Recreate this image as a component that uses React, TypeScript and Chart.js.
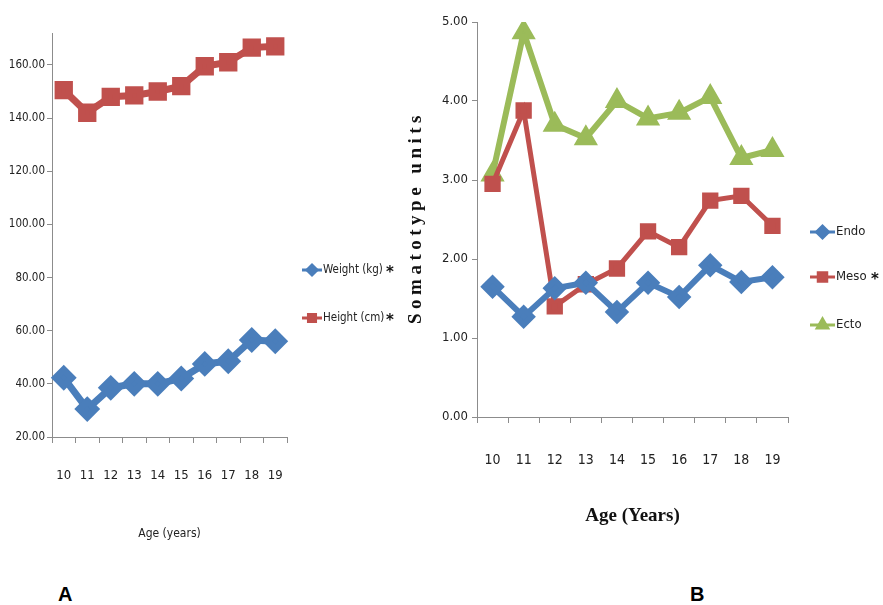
import React, { useEffect, useRef } from "react";
import { Chart, registerables } from "chart.js";
import { drawPoint } from "chart.js/helpers";

Chart.register(...registerables);

// ---------- data ----------
const ages = ["10", "11", "12", "13", "14", "15", "16", "17", "18", "19"];
const weightKg = [42.3, 30.5, 38.5, 40, 40, 42, 47.5, 48.5, 56.5, 56];
const heightCm = [150.5, 142, 148, 148.5, 150, 152, 159.5, 161, 166.5, 167];
const endo = [1.65, 1.27, 1.63, 1.7, 1.33, 1.7, 1.52, 1.92, 1.71, 1.77];
const meso = [2.95, 3.88, 1.4, 1.68, 1.88, 2.35, 2.15, 2.74, 2.8, 2.42];
const ecto = [3.07, 4.87, 3.7, 3.53, 4.0, 3.78, 3.85, 4.05, 3.28, 3.38];
const growthTicks = [20, 40, 60, 80, 100, 120, 140, 160];
const somaTicks = [0, 1, 2, 3, 4, 5];
const growthLabels = ["Weight (kg)", "Height (cm)"];
const growthSig = [true, true];
const somaLabels = ["Endo", "Meso", "Ecto"];
const somaSig = [false, true, false];
const somaYTitle = "Somatotype units";

const BLUE = "#4A7EBB";
const RED = "#C0504D";
const GREEN = "#9BBB59";
const NARROW = "'DejaVu Sans Condensed', 'Liberation Sans Narrow', 'Liberation Sans', sans-serif";
const SERIF = "'Liberation Serif', 'DejaVu Serif', serif";

// custom legend drawn on the canvas at fixed spots
const legendPlugin = {
  id: "fixedLegend",
  afterDraw(chart: any, _args: any, opts: any) {
    if (!opts || !opts.rows) return;
    const ctx = chart.ctx;
    ctx.save();
    chart.data.datasets.forEach((ds: any, i: number) => {
      const y = opts.rows[i];
      ctx.strokeStyle = ds.borderColor;
      ctx.lineWidth = 3;
      ctx.beginPath();
      ctx.moveTo(opts.x0, y);
      ctx.lineTo(opts.x1, y);
      ctx.stroke();
      ctx.fillStyle = ds.backgroundColor;
      ctx.strokeStyle = ds.borderColor;
      drawPoint(ctx, { pointStyle: ds.pointStyle, radius: opts.markerR, borderWidth: 1, rotation: 0 }, (opts.x0 + opts.x1) / 2, y);
      ctx.fillStyle = "#222";
      ctx.font = opts.font;
      ctx.textBaseline = "middle";
      ctx.textAlign = "left";
      ctx.fillText(ds.label, opts.x1 + 1, y);
      if (opts.sig[i]) {
        ctx.font = "bold 15px 'DejaVu Sans', sans-serif";
        ctx.fillStyle = "#111";
        ctx.fillText("*", opts.starX, y + 3);
      }
    });
    ctx.restore();
  },
};

// letter-spaced vertical axis title
const spacedTitlePlugin = {
  id: "spacedTitle",
  afterDraw(chart: any, _args: any, opts: any) {
    if (!opts || !opts.text) return;
    const ctx = chart.ctx;
    const area = chart.chartArea;
    ctx.save();
    ctx.translate(opts.x, (area.top + area.bottom) / 2 + opts.dy);
    ctx.rotate(-Math.PI / 2);
    ctx.font = opts.font;
    (ctx as any).letterSpacing = opts.spacing;
    ctx.fillStyle = "#111";
    ctx.textAlign = "center";
    ctx.textBaseline = "middle";
    ctx.fillText(opts.text, 0, 0);
    ctx.restore();
  },
};

function useChart(ref: React.RefObject<HTMLCanvasElement | null>, make: () => any) {
  useEffect(() => {
    if (!ref.current) return;
    const chart = new Chart(ref.current, make());
    return () => chart.destroy();
  }, []);
}

function GrowthChart() {
  const ref = useRef<HTMLCanvasElement | null>(null);
  useChart(ref, () => ({
    type: "line",
    data: {
      labels: ages,
      datasets: [
        {
          label: growthLabels[0],
          data: weightKg,
          borderColor: BLUE,
          backgroundColor: BLUE,
          borderWidth: 7,
          pointStyle: "rectRot",
          pointRadius: 8,
          tension: 0,
        },
        {
          label: growthLabels[1],
          data: heightCm,
          borderColor: RED,
          backgroundColor: RED,
          borderWidth: 7,
          pointStyle: "rect",
          pointRadius: 8,
          tension: 0,
        },
      ],
    },
    plugins: [legendPlugin],
    options: {
      animation: false,
      responsive: false,
      devicePixelRatio: 1,
      layout: { padding: { top: 33, right: 123, left: 0, bottom: 0 } },
      plugins: {
        legend: { display: false },
        tooltip: { enabled: false },
        fixedLegend: {
          rows: [270, 318],
          x0: 302,
          x1: 322,
          markerR: 5,
          starX: 386,
          sig: growthSig,
          font: "11.5px " + NARROW,
        },
      },
      scales: {
        x: {
          offset: true,
          grid: { offset: true, drawOnChartArea: false, drawTicks: true, tickLength: 6, color: "#8c8c8c" },
          border: { display: true, color: "#8c8c8c" },
          ticks: { color: "#222", padding: 25, font: { family: NARROW, size: 13 }, maxRotation: 0 },
          title: { display: true, text: "Age (years)", color: "#222", font: { family: NARROW, size: 12 }, padding: { bottom: 19 } },
          afterFit: (s: any) => { s.height = 123; },
        },
        y: {
          min: 20,
          max: 172,
          afterBuildTicks: (s: any) => { s.ticks = growthTicks.map((v) => ({ value: v })); },
          grid: { drawOnChartArea: false, drawTicks: true, tickLength: 5, color: "#8c8c8c" },
          border: { display: true, color: "#8c8c8c" },
          ticks: { color: "#222", padding: 2, font: { family: NARROW, size: 11.5 }, callback: (v: any) => Number(v).toFixed(2) },
          afterFit: (s: any) => { s.width = 52; },
        },
      },
    },
  }));
  return <canvas ref={ref} width={410} height={560} style={{ position: "absolute", left: 0, top: 0, width: 410, height: 560 }} />;
}

function SomaChart() {
  const ref = useRef<HTMLCanvasElement | null>(null);
  useChart(ref, () => ({
    type: "line",
    data: {
      labels: ages,
      datasets: [
        { label: somaLabels[0], data: endo, borderColor: BLUE, backgroundColor: BLUE, borderWidth: 6, pointStyle: "rectRot", pointRadius: 8, tension: 0 },
        { label: somaLabels[1], data: meso, borderColor: RED, backgroundColor: RED, borderWidth: 5, pointStyle: "rect", pointRadius: 8, tension: 0 },
        { label: somaLabels[2], data: ecto, borderColor: GREEN, backgroundColor: GREEN, borderWidth: 6, pointStyle: "triangle", pointRadius: 8, tension: 0 },
      ],
    },
    plugins: [legendPlugin, spacedTitlePlugin],
    options: {
      animation: false,
      responsive: false,
      devicePixelRatio: 1,
      layout: { padding: { top: 22, right: 95, left: 0, bottom: 0 } },
      plugins: {
        legend: { display: false },
        tooltip: { enabled: false },
        fixedLegend: {
          rows: [232, 277, 325],
          x0: 410,
          x1: 435,
          markerR: 6,
          starX: 471,
          sig: somaSig,
          font: "13px " + NARROW,
        },
        spacedTitle: {
          text: somaYTitle,
          x: 16,
          dy: -2,
          font: "bold 19px " + SERIF,
          spacing: "4.5px",
        },
      },
      scales: {
        x: {
          offset: true,
          grid: { offset: true, drawOnChartArea: false, drawTicks: true, tickLength: 6, color: "#8c8c8c" },
          border: { display: true, color: "#8c8c8c" },
          ticks: { color: "#222", padding: 29, font: { family: NARROW, size: 14 }, maxRotation: 0 },
          title: { display: true, text: "Age (Years)", color: "#111", font: { family: SERIF, size: 19, weight: "bold" }, padding: { bottom: 33 } },
          afterFit: (s: any) => { s.height = 143; },
        },
        y: {
          min: 0,
          max: 5,
          afterBuildTicks: (s: any) => { s.ticks = somaTicks.map((v) => ({ value: v })); },
          grid: { drawOnChartArea: false, drawTicks: true, tickLength: 5, color: "#8c8c8c" },
          border: { display: true, color: "#8c8c8c" },
          ticks: { color: "#222", padding: 4, font: { family: NARROW, size: 13 }, callback: (v: any) => Number(v).toFixed(2) },
          afterFit: (s: any) => { s.width = 77; },
        },
      },
    },
  }));
  return <canvas ref={ref} width={483} height={560} style={{ position: "absolute", left: 400, top: 0, width: 483, height: 560 }} />;
}

export default function App() {
  const panelLabel: React.CSSProperties = {
    position: "absolute",
    top: 583,
    fontFamily: "'Liberation Sans', Arial, sans-serif",
    fontWeight: "bold",
    fontSize: 20,
    color: "#000",
    lineHeight: "22px",
  };
  return (
    <div style={{ position: "absolute", left: 0, top: 0, width: 883, height: 605, background: "#fff", overflow: "hidden" }}>
      <GrowthChart />
      <SomaChart />
      <div style={{ ...panelLabel, left: 58 }}>A</div>
      <div style={{ ...panelLabel, left: 690 }}>B</div>
    </div>
  );
}
